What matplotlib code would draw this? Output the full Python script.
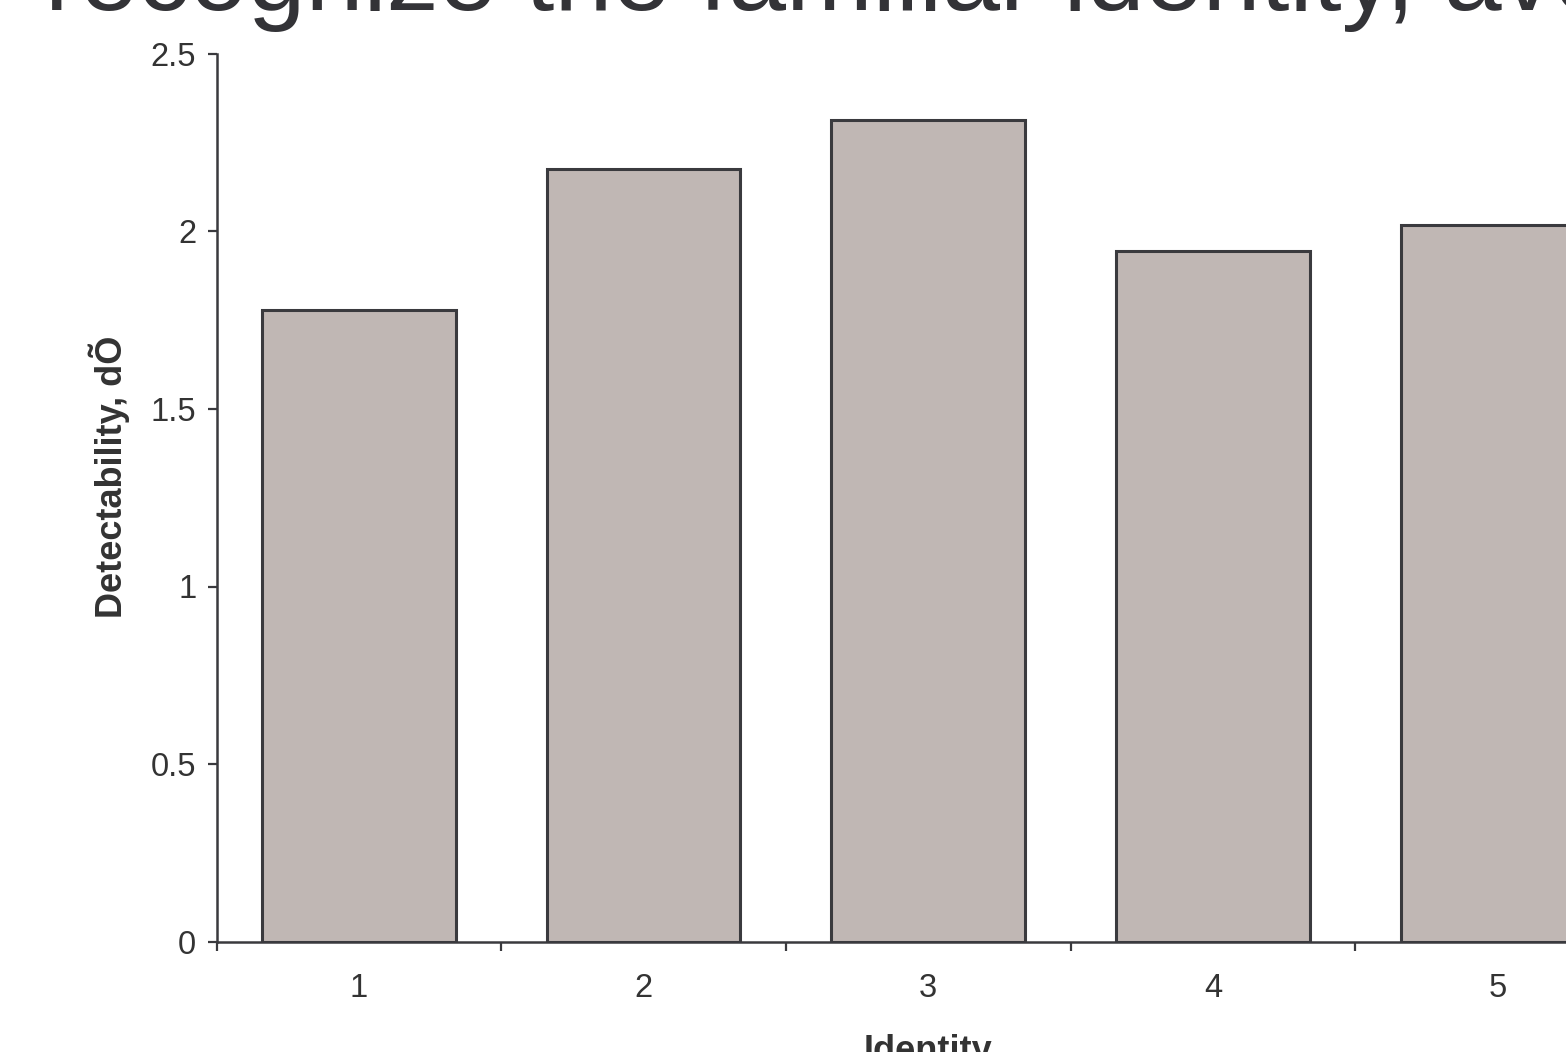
import matplotlib
matplotlib.use('Agg')
import matplotlib.pyplot as plt
import numpy as np

plt.rcParams['font.family'] = ['Liberation Sans', 'DejaVu Sans']

identities = ['1', '2', '3', '4', '5']
detectability = [1.780, 2.175, 2.314, 1.946, 2.018]
y_ticks = [0, 0.5, 1, 1.5, 2, 2.5]
y_tick_labels = ['0', '0.5', '1', '1.5', '2', '2.5']

title = 'recognize the familiar identity, averaged across observers'
dark = '#3a3a3e'
bar_fill = '#c0b7b4'

fig = plt.figure(figsize=(15.66, 10.52), dpi=100)
W, H = 1566, 1052
# axes box runs past the right edge of the canvas, as in the source
left, right, bottom, top = 216.5, 1640, 941.5, 54
ax = fig.add_axes([left / W, (H - bottom) / H, (right - left) / W, (bottom - top) / H])

x = np.arange(1, len(identities) + 1)
ax.bar(x, detectability, width=0.68, color=bar_fill, edgecolor=dark, linewidth=2.2, zorder=2)

ax.set_xlim(0.5, len(identities) + 0.5)
ax.set_ylim(0, 2.5)

for side in ['top', 'right']:
    ax.spines[side].set_visible(False)
for side in ['left', 'bottom']:
    ax.spines[side].set_color(dark)
    ax.spines[side].set_linewidth(1.8)
    ax.spines[side].set_zorder(3)

ax.set_yticks(y_ticks)
ax.set_yticklabels(y_tick_labels)
ax.tick_params(axis='y', direction='out', length=6.5, width=1.6, color=dark,
               labelsize=23.5, labelcolor='#333333', pad=8)

# boundary ticks without labels, labels centred under each bar
ax.set_xticks(np.arange(0.5, len(identities) + 1.5, 1.0))
ax.set_xticklabels([])
ax.set_xticks(x, minor=True)
ax.set_xticklabels(identities, minor=True)
ax.tick_params(axis='x', which='major', direction='out', length=6.5, width=1.6, color=dark)
ax.tick_params(axis='x', which='minor', length=0, labelsize=23.5, labelcolor='#333333', pad=23)

ax.set_ylabel('Detectability, dÕ', fontsize=26, fontweight='bold', color='#333333')
ax.yaxis.set_label_coords(-0.061, 0.524)
ax.set_xlabel('Identity', fontsize=26, fontweight='bold', color='#333333', labelpad=21)

fig.text(45 / W, (H - 10) / H, title, fontsize=75, color='#333337',
         ha='left', va='baseline')

fig.savefig('out.png', dpi=100)
